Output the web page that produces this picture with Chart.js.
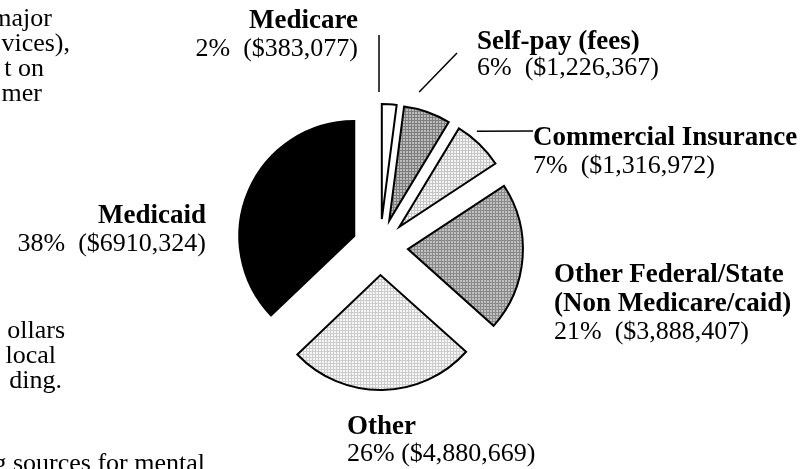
<!DOCTYPE html>
<html>
<head>
<meta charset="utf-8">
<script src="https://cdn.jsdelivr.net/npm/chart.js@4.4.1/dist/chart.umd.min.js"></script>
<style>
  html, body { margin: 0; padding: 0; background: #fff; }
  body { width: 806px; height: 469px; overflow: hidden; position: relative;
         font-family: "Liberation Serif", "Times New Roman", serif; color: #000; }
  #chart { position: absolute; left: 0; top: 0; }
  .ln { position: absolute; height: 28px; line-height: 28px; font-size: 26px; white-space: pre; }
  .b { font-weight: bold; font-size: 27px; }
</style>
</head>
<body>
<canvas id="chart" width="806" height="469"></canvas>
<script>
// slices, clockwise from 12 o'clock
const categories = ['Medicare', 'Self-pay (fees)', 'Commercial Insurance',
  'Other Federal/State (Non Medicare/caid)', 'Other', 'Medicaid'];
const amounts = [383077, 1226367, 1316972, 3888407, 4880669, 6910324];
const percentLabels = ['2%', '6%', '7%', '21%', '26%', '38%'];
const amountLabels = ['$383,077', '$1,226,367', '$1,316,972', '$3,888,407', '$4,880,669', '$6910,324'];

// bits of the surrounding page text that show at the left edge
const pageText = ['major', 'vices),', 't on', 'mer', 'ollars', 'local', 'ding.', 'g sources for mental'];

// label placement (name lines then value line)
const labelLayout = [
  { names: ['Medicare'], x: 358, y: 19, pitch: 29, align: 'right', sep: '  ' },
  { names: ['Self-pay (fees)'], x: 477, y: 40, pitch: 27, align: 'left', sep: '  ' },
  { names: ['Commercial Insurance'], x: 533, y: 136, pitch: 29, align: 'left', sep: '  ' },
  { names: ['Other Federal/State', '(Non Medicare/caid)'], x: 554, y: 273, pitch: 29, align: 'left', sep: '  ' },
  { names: ['Other'], x: 347, y: 425, pitch: 28, align: 'left', sep: ' ' },
  { names: ['Medicaid'], x: 206, y: 214, pitch: 29, align: 'right', sep: '  ' }
];
const pageTextLayout = [[52, 18], [70, 43], [44, 68], [42, 93], [65, 330], [56, 355], [62, 380], [205, 463]];

// leader lines: start is taken from the arc, end is at the label
const leaders = [
  { index: 0, frac: -0.17, gap: 12, end: [379, 35] },
  { index: 1, frac: 0.24, gap: 17, end: [457, 53] },
  { index: 2, frac: 0.31, gap: 8, end: [533, 131] }
];
const EXPLODE = 28;

function addLine(text, x, y, align, bold) {
  const d = document.createElement('div');
  d.className = 'ln' + (bold ? ' b' : '');
  d.textContent = text;
  d.style.top = (y - 14) + 'px';
  if (align === 'right') {
    d.style.right = (806 - x) + 'px';
    d.style.textAlign = 'right';
  } else {
    d.style.left = x + 'px';
  }
  document.body.appendChild(d);
}

pageText.forEach((t, i) => addLine(t, pageTextLayout[i][0], pageTextLayout[i][1], 'right', false));

labelLayout.forEach((l, i) => {
  l.names.forEach((n, k) => addLine(n, l.x, l.y + k * l.pitch, l.align, true));
  addLine(percentLabels[i] + l.sep + '(' + amountLabels[i] + ')', l.x, l.y + l.names.length * l.pitch, l.align, false);
});

// scanned grey screens
function screen(base, line, step) {
  const c = document.createElement('canvas');
  c.width = step; c.height = step;
  const g = c.getContext('2d');
  g.fillStyle = base; g.fillRect(0, 0, step, step);
  g.fillStyle = line;
  g.fillRect(0, 0, step, 1);
  g.fillRect(0, 0, 1, step);
  return g.createPattern(c, 'repeat');
}
const fills = [
  '#ffffff',
  screen('#bcbcbc', '#7e7e7e', 3),
  screen('#f4f4f4', '#c6c6c6', 3),
  screen('#c0c0c0', '#8a8a8a', 3),
  screen('#f6f6f6', '#cdcdcd', 3),
  '#000000'
];

// pull every slice out from the centre
const explode = {
  id: 'explode',
  afterDatasetUpdate(chart, args) {
    chart.getDatasetMeta(args.index).data.forEach(arc => {
      const mid = (arc.startAngle + arc.endAngle) / 2;
      arc.x += Math.cos(mid) * EXPLODE;
      arc.y += Math.sin(mid) * EXPLODE;
    });
  }
};

const leaderLines = {
  id: 'leaderLines',
  afterDatasetsDraw(chart) {
    const arcs = chart.getDatasetMeta(0).data;
    const ctx = chart.ctx;
    ctx.save();
    ctx.strokeStyle = '#000';
    ctx.lineWidth = 1.5;
    leaders.forEach(l => {
      const arc = arcs[l.index];
      const a = arc.startAngle + l.frac * (arc.endAngle - arc.startAngle);
      const r = arc.outerRadius + l.gap;
      ctx.beginPath();
      ctx.moveTo(arc.x + Math.cos(a) * r, arc.y + Math.sin(a) * r);
      ctx.lineTo(l.end[0], l.end[1]);
      ctx.stroke();
    });
    ctx.restore();
  }
};

new Chart(document.getElementById('chart'), {
  type: 'pie',
  data: {
    labels: categories,
    datasets: [{
      data: amounts,
      backgroundColor: fills,
      borderColor: '#000',
      borderWidth: 2,
      borderJoinStyle: 'miter',
      radius: 115,
      clip: false
    }]
  },
  options: {
    responsive: false,
    animation: false,
    events: [],
    layout: { padding: { left: 0, right: 46, top: 25, bottom: 0 } },
    plugins: {
      legend: { display: false },
      tooltip: { enabled: false }
    }
  },
  plugins: [explode, leaderLines]
});
</script>
</body>
</html>
